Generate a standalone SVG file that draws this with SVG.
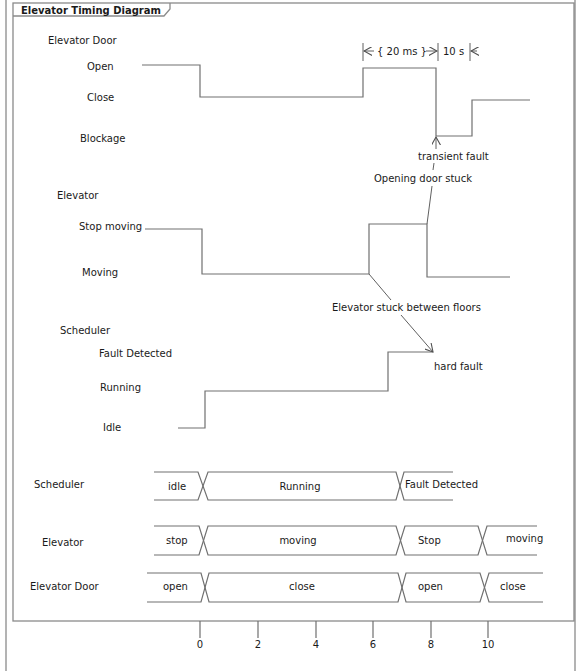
<svg xmlns="http://www.w3.org/2000/svg" width="576" height="671" viewBox="0 0 576 671">
<style>
text{font-family:"DejaVu Sans",Verdana,sans-serif;font-size:10px;fill:#1a1a1a}
.t{font-weight:bold;font-size:10px}
.c{text-anchor:middle}
.w{fill:none;stroke:#707070;stroke-width:1.2}
.f{fill:none;stroke:#8a8a8a;stroke-width:1.3}
.a{fill:none;stroke:#606060;stroke-width:1}
</style>
<defs>
<marker id="ah" viewBox="0 0 10 10" refX="9" refY="5" markerWidth="9" markerHeight="9" markerUnits="userSpaceOnUse" orient="auto-start-reverse">
<path d="M0,0 L9,5 L0,10" fill="none" stroke="#505050" stroke-width="1.2"/>
</marker>
</defs>
<g id="frame">
<line class="f" x1="6" y1="0" x2="6" y2="671"/>
<line class="f" x1="575" y1="0" x2="575" y2="671"/>
<rect class="f" x="13" y="3" width="561" height="618"/>
<path class="f" d="M13,16 H164 L170,9 V3"/>
<text class="t" x="21" y="14">Elevator Timing Diagram</text>
</g>
<g id="labels">
<text x="48" y="44">Elevator Door</text>
<text x="87" y="70">Open</text>
<text x="87" y="101">Close</text>
<text x="80" y="142">Blockage</text>
<text x="57" y="199">Elevator</text>
<text x="79" y="230">Stop moving</text>
<text x="82" y="276">Moving</text>
<text x="60" y="334">Scheduler</text>
<text x="99" y="357">Fault Detected</text>
<text x="100" y="391">Running</text>
<text x="103" y="431">Idle</text>
<text x="34" y="488">Scheduler</text>
<text x="42" y="546">Elevator</text>
<text x="30" y="590">Elevator Door</text>
</g>
<g id="door-waveform">
<path class="w" d="M142,65 H200 V97 H363 V68 H436 V136 H472 V100 H530"/>
</g>
<g id="elevator-waveform">
<path class="w" d="M145,229 H202 V274 H369 V224 H427 V277 H510"/>
</g>
<g id="scheduler-waveform">
<path class="w" d="M178,428 H205 V391 H388 V352 H433"/>
</g>
<g id="constraint">
<line class="a" x1="363" y1="43" x2="363" y2="61"/>
<line class="a" x1="438" y1="43" x2="438" y2="61"/>
<line class="a" x1="470" y1="43" x2="470" y2="61"/>
<line class="a" x1="374" y1="51" x2="364" y2="51" marker-end="url(#ah)"/>
<line class="a" x1="426" y1="51" x2="437" y2="51" marker-end="url(#ah)"/>
<line class="a" x1="477" y1="51" x2="471" y2="51" marker-end="url(#ah)"/>
<text x="377" y="55">{ 20 ms }</text>
<text x="443" y="55">10 s</text>
</g>
<g id="connectors">
<line class="a" x1="436" y1="149" x2="436" y2="137" marker-end="url(#ah)"/>
<line class="a" x1="434" y1="163" x2="433" y2="170"/>
<line class="a" x1="432" y1="186" x2="427" y2="224"/>
<line class="a" x1="369" y1="274" x2="391" y2="300"/>
<line class="a" x1="401" y1="315" x2="433" y2="352" marker-end="url(#ah)"/>
</g>
<g id="notes">
<text x="418" y="160">transient fault</text>
<text x="374" y="182">Opening door stuck</text>
<text x="332" y="311">Elevator stuck between floors</text>
<text x="434" y="370">hard fault</text>
</g>
<g id="scheduler-state">
<path class="w" d="M154,472 H198 L208,500 H396 L404,472 H453"/>
<path class="w" d="M154,500 H198 L208,472 H396 L404,500 H453"/>
<text x="168" y="490">idle</text>
<text class="c" x="300" y="490">Running</text>
<text x="405" y="488">Fault Detected</text>
</g>
<g id="elevator-state">
<path class="w" d="M154,526 H199 L208,555 H396 L405,526 H478 L487,555 H537"/>
<path class="w" d="M154,555 H199 L208,526 H396 L405,555 H478 L487,526 H537"/>
<text x="166" y="544">stop</text>
<text class="c" x="298" y="544">moving</text>
<text x="418" y="544">Stop</text>
<text x="506" y="542">moving</text>
</g>
<g id="door-state">
<path class="w" d="M147,573 H201 L209,602 H398 L406,573 H480 L489,602 H543"/>
<path class="w" d="M147,602 H201 L209,573 H398 L406,602 H480 L489,573 H543"/>
<text x="163" y="590">open</text>
<text class="c" x="302" y="590">close</text>
<text x="418" y="590">open</text>
<text x="500" y="590">close</text>
</g>
<g id="axis">
<path class="w" d="M200,621 V638 M258,621 V638 M316,621 V638 M373,621 V638 M431,621 V638 M488,621 V638"/>
<text class="c" x="200" y="648">0</text>
<text class="c" x="258" y="648">2</text>
<text class="c" x="316" y="648">4</text>
<text class="c" x="373" y="648">6</text>
<text class="c" x="431" y="648">8</text>
<text class="c" x="488" y="648">10</text>
</g>
</svg>
